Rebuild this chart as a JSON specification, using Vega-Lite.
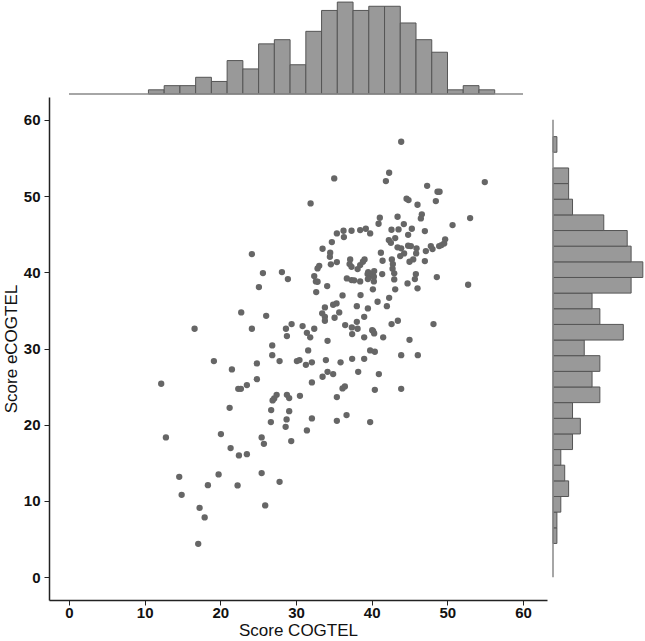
{
  "$schema": "https://vega.github.io/schema/vega-lite/v6.json",
  "padding": {"left": 2, "top": 0, "right": 0, "bottom": 0},
  "background": "white",
  "bounds": "flush",
  "spacing": 3,
  "config": {"view": {"stroke": null}},
  "datasets": {
    "hx": [
      {"start": 10.50, "end": 12.58, "count": 1},
      {"start": 12.58, "end": 14.66, "count": 2},
      {"start": 14.66, "end": 16.74, "count": 2},
      {"start": 16.74, "end": 18.82, "count": 4},
      {"start": 18.82, "end": 20.90, "count": 3},
      {"start": 20.90, "end": 22.98, "count": 8},
      {"start": 22.98, "end": 25.06, "count": 6},
      {"start": 25.06, "end": 27.14, "count": 12},
      {"start": 27.14, "end": 29.22, "count": 13},
      {"start": 29.22, "end": 31.30, "count": 7},
      {"start": 31.30, "end": 33.38, "count": 15},
      {"start": 33.38, "end": 35.46, "count": 20},
      {"start": 35.46, "end": 37.54, "count": 22},
      {"start": 37.54, "end": 39.62, "count": 20},
      {"start": 39.62, "end": 41.70, "count": 21},
      {"start": 41.70, "end": 43.78, "count": 21},
      {"start": 43.78, "end": 45.86, "count": 17},
      {"start": 45.86, "end": 47.94, "count": 13},
      {"start": 47.94, "end": 50.02, "count": 10},
      {"start": 50.02, "end": 52.10, "count": 1},
      {"start": 52.10, "end": 54.18, "count": 2},
      {"start": 54.18, "end": 56.26, "count": 1}
    ],
    "hy": [
      {"start": 4.42, "end": 6.47, "count": 1},
      {"start": 6.47, "end": 8.53, "count": 1},
      {"start": 8.53, "end": 10.58, "count": 2},
      {"start": 10.58, "end": 12.63, "count": 4},
      {"start": 12.63, "end": 14.69, "count": 3},
      {"start": 14.69, "end": 16.74, "count": 2},
      {"start": 16.74, "end": 18.79, "count": 5},
      {"start": 18.79, "end": 20.84, "count": 7},
      {"start": 20.84, "end": 22.90, "count": 5},
      {"start": 22.90, "end": 24.95, "count": 12},
      {"start": 24.95, "end": 27.00, "count": 10},
      {"start": 27.00, "end": 29.06, "count": 12},
      {"start": 29.06, "end": 31.11, "count": 8},
      {"start": 31.11, "end": 33.16, "count": 18},
      {"start": 33.16, "end": 35.22, "count": 12},
      {"start": 35.22, "end": 37.27, "count": 10},
      {"start": 37.27, "end": 39.32, "count": 20},
      {"start": 39.32, "end": 41.37, "count": 23},
      {"start": 41.37, "end": 43.43, "count": 20},
      {"start": 43.43, "end": 45.48, "count": 19},
      {"start": 45.48, "end": 47.53, "count": 13},
      {"start": 47.53, "end": 49.59, "count": 5},
      {"start": 49.59, "end": 51.64, "count": 4},
      {"start": 51.64, "end": 53.69, "count": 4},
      {"start": 55.75, "end": 57.80, "count": 1}
    ],
    "pts": [
      {"COGTEL": 24.17, "eCOGTEL": 42.39}, {"COGTEL": 25.63, "eCOGTEL": 39.90}, {"COGTEL": 28.14, "eCOGTEL": 40.03}, {"COGTEL": 28.93, "eCOGTEL": 39.11}, {"COGTEL": 25.10, "eCOGTEL": 38.06},
      {"COGTEL": 43.90, "eCOGTEL": 57.13}, {"COGTEL": 35.05, "eCOGTEL": 52.32}, {"COGTEL": 42.31, "eCOGTEL": 53.06}, {"COGTEL": 41.88, "eCOGTEL": 51.97}, {"COGTEL": 47.33, "eCOGTEL": 51.35},
      {"COGTEL": 48.70, "eCOGTEL": 50.57}, {"COGTEL": 48.97, "eCOGTEL": 50.57}, {"COGTEL": 54.95, "eCOGTEL": 51.84}, {"COGTEL": 31.93, "eCOGTEL": 49.04}, {"COGTEL": 44.61, "eCOGTEL": 49.65},
      {"COGTEL": 44.87, "eCOGTEL": 49.48}, {"COGTEL": 46.06, "eCOGTEL": 48.86}, {"COGTEL": 48.48, "eCOGTEL": 49.34}, {"COGTEL": 41.08, "eCOGTEL": 47.16}, {"COGTEL": 40.91, "eCOGTEL": 46.37},
      {"COGTEL": 43.42, "eCOGTEL": 47.29}, {"COGTEL": 46.63, "eCOGTEL": 47.60}, {"COGTEL": 46.50, "eCOGTEL": 47.07}, {"COGTEL": 53.01, "eCOGTEL": 47.11}, {"COGTEL": 50.69, "eCOGTEL": 46.19},
      {"COGTEL": 35.40, "eCOGTEL": 45.10}, {"COGTEL": 36.28, "eCOGTEL": 45.45}, {"COGTEL": 36.33, "eCOGTEL": 44.62}, {"COGTEL": 37.34, "eCOGTEL": 45.45}, {"COGTEL": 38.48, "eCOGTEL": 45.54},
      {"COGTEL": 39.23, "eCOGTEL": 45.71}, {"COGTEL": 39.80, "eCOGTEL": 45.10}, {"COGTEL": 42.62, "eCOGTEL": 45.58}, {"COGTEL": 43.55, "eCOGTEL": 45.63}, {"COGTEL": 44.25, "eCOGTEL": 46.33},
      {"COGTEL": 45.31, "eCOGTEL": 45.71}, {"COGTEL": 44.82, "eCOGTEL": 44.92}, {"COGTEL": 47.03, "eCOGTEL": 45.41}, {"COGTEL": 34.74, "eCOGTEL": 43.96}, {"COGTEL": 33.51, "eCOGTEL": 43.09},
      {"COGTEL": 42.27, "eCOGTEL": 44.23}, {"COGTEL": 42.54, "eCOGTEL": 43.87}, {"COGTEL": 43.11, "eCOGTEL": 44.49}, {"COGTEL": 43.42, "eCOGTEL": 43.27}, {"COGTEL": 43.90, "eCOGTEL": 43.14},
      {"COGTEL": 44.29, "eCOGTEL": 42.48}, {"COGTEL": 43.77, "eCOGTEL": 42.13}, {"COGTEL": 44.82, "eCOGTEL": 43.48}, {"COGTEL": 45.18, "eCOGTEL": 43.44}, {"COGTEL": 45.93, "eCOGTEL": 43.14},
      {"COGTEL": 45.88, "eCOGTEL": 42.48}, {"COGTEL": 47.16, "eCOGTEL": 42.78}, {"COGTEL": 47.82, "eCOGTEL": 43.44}, {"COGTEL": 48.04, "eCOGTEL": 43.04}, {"COGTEL": 48.92, "eCOGTEL": 43.44},
      {"COGTEL": 49.23, "eCOGTEL": 43.57}, {"COGTEL": 49.58, "eCOGTEL": 43.79}, {"COGTEL": 49.71, "eCOGTEL": 44.32}, {"COGTEL": 34.52, "eCOGTEL": 42.56}, {"COGTEL": 34.48, "eCOGTEL": 42.03},
      {"COGTEL": 35.40, "eCOGTEL": 41.34}, {"COGTEL": 34.61, "eCOGTEL": 41.04}, {"COGTEL": 41.22, "eCOGTEL": 42.56}, {"COGTEL": 37.16, "eCOGTEL": 41.69}, {"COGTEL": 37.08, "eCOGTEL": 41.08},
      {"COGTEL": 37.34, "eCOGTEL": 40.72}, {"COGTEL": 38.14, "eCOGTEL": 40.42}, {"COGTEL": 38.48, "eCOGTEL": 40.94}, {"COGTEL": 38.84, "eCOGTEL": 41.38}, {"COGTEL": 39.06, "eCOGTEL": 41.69},
      {"COGTEL": 41.44, "eCOGTEL": 41.51}, {"COGTEL": 42.67, "eCOGTEL": 41.69}, {"COGTEL": 42.80, "eCOGTEL": 41.08}, {"COGTEL": 42.76, "eCOGTEL": 40.46}, {"COGTEL": 42.98, "eCOGTEL": 39.86},
      {"COGTEL": 45.00, "eCOGTEL": 41.38}, {"COGTEL": 45.49, "eCOGTEL": 41.69}, {"COGTEL": 47.03, "eCOGTEL": 41.47}, {"COGTEL": 33.07, "eCOGTEL": 40.85}, {"COGTEL": 32.85, "eCOGTEL": 40.51},
      {"COGTEL": 32.41, "eCOGTEL": 39.50}, {"COGTEL": 32.63, "eCOGTEL": 38.80}, {"COGTEL": 32.85, "eCOGTEL": 38.76}, {"COGTEL": 36.72, "eCOGTEL": 39.20}, {"COGTEL": 37.34, "eCOGTEL": 38.98},
      {"COGTEL": 37.69, "eCOGTEL": 38.94}, {"COGTEL": 38.48, "eCOGTEL": 38.80}, {"COGTEL": 39.46, "eCOGTEL": 39.76}, {"COGTEL": 39.80, "eCOGTEL": 39.54}, {"COGTEL": 40.12, "eCOGTEL": 39.76},
      {"COGTEL": 40.29, "eCOGTEL": 39.41}, {"COGTEL": 41.39, "eCOGTEL": 39.76}, {"COGTEL": 42.98, "eCOGTEL": 39.07}, {"COGTEL": 45.84, "eCOGTEL": 39.76}, {"COGTEL": 45.71, "eCOGTEL": 39.11},
      {"COGTEL": 48.61, "eCOGTEL": 39.37}, {"COGTEL": 52.75, "eCOGTEL": 38.36}, {"COGTEL": 34.12, "eCOGTEL": 38.19}, {"COGTEL": 44.74, "eCOGTEL": 38.54}, {"COGTEL": 32.67, "eCOGTEL": 37.40},
      {"COGTEL": 40.16, "eCOGTEL": 37.76}, {"COGTEL": 43.11, "eCOGTEL": 37.76}, {"COGTEL": 46.06, "eCOGTEL": 37.89}, {"COGTEL": 36.15, "eCOGTEL": 36.97}, {"COGTEL": 38.53, "eCOGTEL": 37.01},
      {"COGTEL": 42.31, "eCOGTEL": 36.65}, {"COGTEL": 39.50, "eCOGTEL": 39.11}, {"COGTEL": 40.29, "eCOGTEL": 38.80}, {"COGTEL": 39.54, "eCOGTEL": 40.03}, {"COGTEL": 40.33, "eCOGTEL": 40.16},
      {"COGTEL": 22.76, "eCOGTEL": 34.74}, {"COGTEL": 26.06, "eCOGTEL": 34.29}, {"COGTEL": 16.60, "eCOGTEL": 32.59}, {"COGTEL": 24.17, "eCOGTEL": 32.59}, {"COGTEL": 28.67, "eCOGTEL": 32.59},
      {"COGTEL": 29.42, "eCOGTEL": 33.20}, {"COGTEL": 28.80, "eCOGTEL": 31.63}, {"COGTEL": 26.86, "eCOGTEL": 30.41}, {"COGTEL": 26.86, "eCOGTEL": 29.13}, {"COGTEL": 27.83, "eCOGTEL": 28.35},
      {"COGTEL": 24.83, "eCOGTEL": 28.04}, {"COGTEL": 19.15, "eCOGTEL": 28.35}, {"COGTEL": 21.53, "eCOGTEL": 27.26}, {"COGTEL": 24.83, "eCOGTEL": 25.98}, {"COGTEL": 22.37, "eCOGTEL": 24.71},
      {"COGTEL": 22.72, "eCOGTEL": 24.71}, {"COGTEL": 23.51, "eCOGTEL": 25.20}, {"COGTEL": 12.19, "eCOGTEL": 25.37}, {"COGTEL": 27.44, "eCOGTEL": 23.92}, {"COGTEL": 27.12, "eCOGTEL": 23.45},
      {"COGTEL": 26.91, "eCOGTEL": 23.19}, {"COGTEL": 28.80, "eCOGTEL": 23.92}, {"COGTEL": 29.10, "eCOGTEL": 23.49}, {"COGTEL": 30.52, "eCOGTEL": 23.79}, {"COGTEL": 21.23, "eCOGTEL": 22.22},
      {"COGTEL": 26.72, "eCOGTEL": 21.92}, {"COGTEL": 29.10, "eCOGTEL": 21.78}, {"COGTEL": 26.68, "eCOGTEL": 20.34}, {"COGTEL": 28.76, "eCOGTEL": 20.69}, {"COGTEL": 28.63, "eCOGTEL": 19.72},
      {"COGTEL": 20.08, "eCOGTEL": 18.77}, {"COGTEL": 12.81, "eCOGTEL": 18.33}, {"COGTEL": 25.46, "eCOGTEL": 18.33}, {"COGTEL": 25.76, "eCOGTEL": 17.49}, {"COGTEL": 29.37, "eCOGTEL": 17.85},
      {"COGTEL": 21.36, "eCOGTEL": 16.93}, {"COGTEL": 22.46, "eCOGTEL": 15.97}, {"COGTEL": 23.51, "eCOGTEL": 16.14}, {"COGTEL": 14.57, "eCOGTEL": 13.16}, {"COGTEL": 19.77, "eCOGTEL": 13.48},
      {"COGTEL": 25.46, "eCOGTEL": 13.65}, {"COGTEL": 27.83, "eCOGTEL": 12.51}, {"COGTEL": 14.89, "eCOGTEL": 10.80}, {"COGTEL": 18.36, "eCOGTEL": 12.07}, {"COGTEL": 22.28, "eCOGTEL": 12.03},
      {"COGTEL": 17.26, "eCOGTEL": 9.09}, {"COGTEL": 17.93, "eCOGTEL": 7.83}, {"COGTEL": 25.93, "eCOGTEL": 9.41}, {"COGTEL": 17.08, "eCOGTEL": 4.37}, {"COGTEL": 30.12, "eCOGTEL": 28.35},
      {"COGTEL": 30.46, "eCOGTEL": 28.48},
      {"COGTEL": 33.82, "eCOGTEL": 35.39}, {"COGTEL": 34.91, "eCOGTEL": 35.74}, {"COGTEL": 35.36, "eCOGTEL": 35.92}, {"COGTEL": 38.04, "eCOGTEL": 35.56}, {"COGTEL": 39.50, "eCOGTEL": 35.26},
      {"COGTEL": 40.78, "eCOGTEL": 36.13}, {"COGTEL": 42.01, "eCOGTEL": 35.56}, {"COGTEL": 33.46, "eCOGTEL": 34.61}, {"COGTEL": 33.82, "eCOGTEL": 34.16}, {"COGTEL": 33.82, "eCOGTEL": 33.64},
      {"COGTEL": 35.10, "eCOGTEL": 34.03}, {"COGTEL": 35.71, "eCOGTEL": 34.74}, {"COGTEL": 39.01, "eCOGTEL": 34.16}, {"COGTEL": 38.04, "eCOGTEL": 33.50}, {"COGTEL": 30.87, "eCOGTEL": 32.94},
      {"COGTEL": 32.41, "eCOGTEL": 32.59}, {"COGTEL": 31.44, "eCOGTEL": 32.06}, {"COGTEL": 31.88, "eCOGTEL": 31.46}, {"COGTEL": 36.50, "eCOGTEL": 33.07}, {"COGTEL": 37.38, "eCOGTEL": 32.77},
      {"COGTEL": 38.14, "eCOGTEL": 32.59}, {"COGTEL": 37.42, "eCOGTEL": 31.89}, {"COGTEL": 39.01, "eCOGTEL": 31.46}, {"COGTEL": 40.07, "eCOGTEL": 32.41}, {"COGTEL": 40.33, "eCOGTEL": 31.98},
      {"COGTEL": 41.52, "eCOGTEL": 31.46}, {"COGTEL": 42.63, "eCOGTEL": 33.20}, {"COGTEL": 43.46, "eCOGTEL": 33.64}, {"COGTEL": 48.17, "eCOGTEL": 33.20}, {"COGTEL": 34.17, "eCOGTEL": 31.01},
      {"COGTEL": 45.00, "eCOGTEL": 31.14}, {"COGTEL": 31.61, "eCOGTEL": 29.75}, {"COGTEL": 39.80, "eCOGTEL": 29.75}, {"COGTEL": 40.42, "eCOGTEL": 29.57}, {"COGTEL": 43.90, "eCOGTEL": 29.13},
      {"COGTEL": 46.10, "eCOGTEL": 29.13}, {"COGTEL": 31.31, "eCOGTEL": 27.86}, {"COGTEL": 32.10, "eCOGTEL": 28.18}, {"COGTEL": 33.95, "eCOGTEL": 28.48}, {"COGTEL": 35.89, "eCOGTEL": 28.18},
      {"COGTEL": 37.42, "eCOGTEL": 28.65}, {"COGTEL": 39.01, "eCOGTEL": 28.65}, {"COGTEL": 33.51, "eCOGTEL": 26.29}, {"COGTEL": 34.17, "eCOGTEL": 26.94}, {"COGTEL": 34.91, "eCOGTEL": 26.64},
      {"COGTEL": 38.22, "eCOGTEL": 26.94}, {"COGTEL": 40.95, "eCOGTEL": 26.64}, {"COGTEL": 32.10, "eCOGTEL": 25.55}, {"COGTEL": 36.15, "eCOGTEL": 24.76}, {"COGTEL": 36.46, "eCOGTEL": 25.03},
      {"COGTEL": 40.42, "eCOGTEL": 24.58}, {"COGTEL": 43.90, "eCOGTEL": 24.71}, {"COGTEL": 35.40, "eCOGTEL": 23.62}, {"COGTEL": 32.10, "eCOGTEL": 20.83}, {"COGTEL": 35.40, "eCOGTEL": 20.51},
      {"COGTEL": 36.68, "eCOGTEL": 21.26}, {"COGTEL": 39.80, "eCOGTEL": 20.34}, {"COGTEL": 31.44, "eCOGTEL": 19.25}, {"COGTEL": 40.19, "eCOGTEL": 32.28}
    ]
  },
  "vconcat": [
    {
      "width": 498,
      "height": 94,
      "layer": [
        {
          "data": {"name": "hx"},
          "mark": {"type": "bar", "fill": "#999999", "stroke": "#555555", "strokeWidth": 1},
          "encoding": {
            "x": {"field": "start", "type": "quantitative", "scale": {"domain": [-2.64, 63.17], "nice": false, "zero": false}, "axis": null},
            "x2": {"field": "end"},
            "y": {"field": "count", "type": "quantitative", "scale": {"domain": [0, 22.5], "nice": false}, "axis": null},
            "y2": {"datum": 0}
          }
        },
        {
          "data": {"values": [{"a": 0, "b": 60}]},
          "mark": {"type": "rule", "color": "#888888", "strokeWidth": 1.5},
          "encoding": {
            "x": {"field": "a", "type": "quantitative", "scale": {"domain": [-2.64, 63.17], "nice": false, "zero": false}, "axis": null},
            "x2": {"field": "b"},
            "y": {"datum": 0, "type": "quantitative", "scale": {"domain": [0, 22.5], "nice": false}, "axis": null}
          }
        }
      ]
    },
    {
      "bounds": "flush",
      "spacing": 6,
      "hconcat": [
        {
          "width": 498,
          "height": 503,
          "data": {"name": "pts"},
          "mark": {"type": "circle", "size": 40, "color": "#666666", "opacity": 1},
          "encoding": {
            "x": {
              "field": "COGTEL", "type": "quantitative",
              "scale": {"domain": [-2.64, 63.17], "nice": false, "zero": false},
              "axis": {"title": "Score COGTEL", "values": [0, 10, 20, 30, 40, 50, 60], "grid": false,
                "domainColor": "#222222", "domainWidth": 1.5, "tickColor": "#222222", "tickWidth": 1, "tickSize": 5,
                "labelFont": "Liberation Sans", "labelFontWeight": "bold", "labelFontSize": 15, "labelColor": "#111111", "labelPadding": 0,
                "titleFont": "Liberation Sans", "titleFontWeight": "normal", "titleFontSize": 17, "titleColor": "#111111", "titlePadding": 2}
            },
            "y": {
              "field": "eCOGTEL", "type": "quantitative",
              "scale": {"domain": [-3, 63], "nice": false, "zero": false},
              "axis": {"title": "Score eCOGTEL", "values": [0, 10, 20, 30, 40, 50, 60], "grid": false,
                "domainColor": "#222222", "domainWidth": 1.5, "tickColor": "#222222", "tickWidth": 1, "tickSize": 5,
                "labelFont": "Liberation Sans", "labelFontWeight": "bold", "labelFontSize": 15, "labelColor": "#111111", "labelPadding": 4,
                "titleFont": "Liberation Sans", "titleFontWeight": "normal", "titleFontSize": 17, "titleColor": "#111111", "titlePadding": 3}
            }
          }
        },
        {
          "width": 91,
          "height": 503,
          "layer": [
            {
              "data": {"name": "hy"},
              "mark": {"type": "bar", "fill": "#999999", "stroke": "#555555", "strokeWidth": 1},
              "encoding": {
                "y": {"field": "start", "type": "quantitative", "scale": {"domain": [-3, 63], "nice": false, "zero": false}, "axis": null},
                "y2": {"field": "end"},
                "x": {"field": "count", "type": "quantitative", "scale": {"domain": [0, 23.3], "nice": false}, "axis": null},
                "x2": {"datum": 0}
              }
            },
            {
              "data": {"values": [{"a": 0, "b": 60}]},
              "mark": {"type": "rule", "color": "#888888", "strokeWidth": 1.5},
              "encoding": {
                "y": {"field": "a", "type": "quantitative", "scale": {"domain": [-3, 63], "nice": false, "zero": false}, "axis": null},
                "y2": {"field": "b"},
                "x": {"datum": 0, "type": "quantitative", "scale": {"domain": [0, 23.3], "nice": false}, "axis": null}
              }
            }
          ]
        }
      ]
    }
  ]
}
